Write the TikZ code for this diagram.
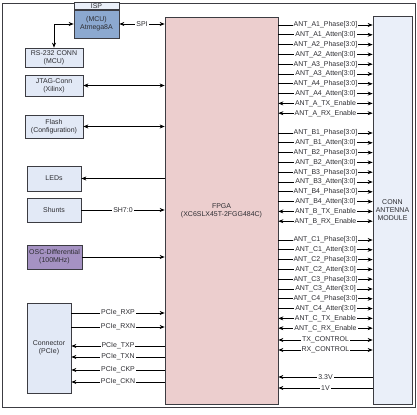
\documentclass[tikz,border=0pt]{standalone}
\usepackage{fontspec}
\setmainfont{Liberation Sans}
\usepackage{xcolor}
\definecolor{Board-line}{RGB}{60, 60, 66}
\definecolor{Board-text}{RGB}{45, 45, 50}
\definecolor{Board-pink}{RGB}{236, 206, 206}
\definecolor{Board-blue}{RGB}{226, 233, 246}
\definecolor{Board-pale}{RGB}{234, 239, 249}
\definecolor{Board-steel}{RGB}{140, 169, 208}
\definecolor{Board-purple}{RGB}{165, 146, 195}
\usepackage{tikz}
\usetikzlibrary{arrows.meta,positioning,calc}

\begin{document}
\begin{tikzpicture} [
    x=1bp, y=-1bp, line width=0.7bp, >={Stealth[length=5bp,width=4bp]},
    font=\fontsize{7}{8}\selectfont, text=Board-text,
    box/.style = {rectangle,draw=Board-line,fill=Board-blue,align=center,inner sep=0pt},
    chip/.style = {box,fill=Board-steel,minimum width=45bp,minimum height=28bp},
    head/.style = {box,fill=Board-pale,minimum width=45bp,minimum height=7bp},
    lbl/.style = {fill=white,inner sep=1bp,pos=0.5}
    ]

    \useasboundingbox (0,0) rectangle (417,415);
    \draw[Board-line] (2,3) rectangle (415,407);

    \def \yarray{{25, 133, 240}}
    \pgfmathsetmacro{\dy}{9.8}

    % left column
    \node (mcu) [chip] at (96.5,24) {(MCU)\\Atmega8A};
    \node (isp) [head, above=0pt of mcu] {ISP};
    \node (rs232) [box,minimum width=58bp,minimum height=19bp] at (54,57.5) {RS-232 CONN\\(MCU)};
    \node (jtag) [box,minimum width=58bp,minimum height=21bp] at (54,85.5) {JTAG-Conn\\(Xilinx)};
    \node (flash) [box,minimum width=58bp,minimum height=23bp] at (54,126.5) {Flash\\(Configuration)};
    \node (leds) [box,minimum width=54bp,minimum height=25bp] at (54,178.5) {LEDs};
    \node (shunts) [box,minimum width=54bp,minimum height=24bp] at (54,210) {Shunts};
    \node (osc) [box,fill=Board-purple,minimum width=55bp,minimum height=24bp] at (54.5,257) {OSC-Differential\\(100MHz)};
    \node (pcie) [box,minimum width=44bp,minimum height=90bp] at (49,348) {Connector\\(PCIe)};

    % FPGA and antenna module
    \node (fpga) [box,fill=Board-pink,minimum width=113bp,minimum height=387bp] at (221.5,210.5) {FPGA\\(XC6SLX45T-2FGG484C)};
    \node (ant) [box,fill=Board-pale,minimum width=39bp,minimum height=388bp] at (392.5,210) {CONN\\ANTENNA\\MODULE};

    \draw[<->] (mcu.west) -| (rs232.north);
    \draw[<->] (mcu.east) -- node[lbl] {SPI} (mcu.east -| fpga.west);
    \draw[<->] (jtag) -- (jtag -| fpga.west);
    \draw[<->] (flash) -- (flash -| fpga.west);
    \draw[<-] (leds) -- (leds -| fpga.west);
    \draw[->] (shunts) -- node[lbl] {SH7:0} (shunts -| fpga.west);
    \draw[->] (osc) -- (osc -| fpga.west);

    \foreach \s/\y in {RXP/313, RXN/327}
        {
            \draw[->] (pcie.east |- 0,\y) -- node[lbl] {PCIe\_\s} (fpga.west |- 0,\y);
        }
    \foreach \s/\y in {TXP/346, TXN/357, CKP/370, CKN/382}
        {
            \draw[<-] (pcie.east |- 0,\y) -- node[lbl] {PCIe\_\s} (fpga.west |- 0,\y);
        }

    % antenna signals, three groups
    \foreach \g [count=\k from 0] in {A,B,C}
        {
            \pgfmathsetmacro{\ytop}{\yarray[\k]}
            \foreach \n in {1,...,4}
                {
                    \pgfmathsetmacro{\yp}{\ytop+(2*\n-2)*\dy}
                    \pgfmathsetmacro{\ya}{\ytop+(2*\n-1)*\dy}
                    \draw[->] (fpga.east |- 0,\yp) -- node[lbl] {ANT\_\g\n\_Phase[3:0]} (ant.west |- 0,\yp);
                    \draw[->] (fpga.east |- 0,\ya) -- node[lbl] {ANT\_\g\n\_Atten[3:0]} (ant.west |- 0,\ya);
                }
            \pgfmathsetmacro{\yt}{\ytop+8*\dy}
            \pgfmathsetmacro{\yr}{\ytop+9*\dy}
            \draw[<->] (fpga.east |- 0,\yt) -- node[lbl] {ANT\_\g\_TX\_Enable} (ant.west |- 0,\yt);
            \draw[<->] (fpga.east |- 0,\yr) -- node[lbl] {ANT\_\g\_RX\_Enable} (ant.west |- 0,\yr);
        }

    \draw[<->] (fpga.east |- 0,340) -- node[lbl] {TX\_CONTROL} (ant.west |- 0,340);
    \draw[<->] (fpga.east |- 0,350) -- node[lbl] {RX\_CONTROL} (ant.west |- 0,350);
    \draw[<-] (fpga.east |- 0,377) -- node[lbl] {3.3V} (ant.west |- 0,377);
    \draw[<-] (fpga.east |- 0,388) -- node[lbl] {1V} (ant.west |- 0,388);

\end{tikzpicture}
\end{document}
